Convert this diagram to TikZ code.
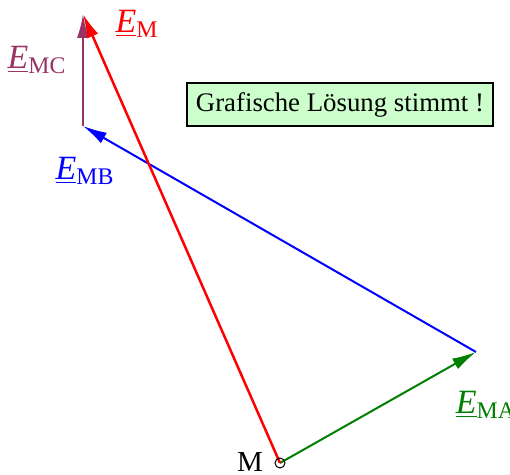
\documentclass[tikz,border=0pt]{standalone}
\usepackage{fontspec}
\setmainfont{Liberation Serif}
\usetikzlibrary{
	arrows.meta,
	positioning
}
\definecolor{gruen}{RGB}{0,128,0}
\definecolor{lila}{RGB}{153,51,102}
\definecolor{hellgruen}{RGB}{204,255,204}
\newcommand{\zeiger}[1]{\underline{\textit{E}}\textsubscript{#1}}

\begin{document}
\begin{tikzpicture}[
  x=0.5pt, y=-0.5pt,
  pfeil/.style={-{Latex[length=12pt,width=6pt]}, line width=1pt},
  marke/.style={font=\fontsize{17}{19}\selectfont},
  hinweis/.style={rectangle, draw, line width=0.8pt, fill=hellgruen,
    minimum width=153pt, minimum height=21.5pt, inner sep=0pt,
    font=\fontsize{13.4}{15}\selectfont}
]
\useasboundingbox (0,0) rectangle (510,475);
\coordinate (M) at (280,463);
\coordinate (A) at (476,352);
\coordinate (B) at (83,126);
\coordinate (C) at (83,14);
% Zeiger
\draw[pfeil, gruen] (M) -- (A);
\draw[pfeil, blue] (A) -- (B);
\draw[pfeil, lila] (B) -- (C);
\draw[pfeil, red, line width=1.25pt] (M) -- (C);
\draw[line width=0.5pt] (M) circle (5);
% Beschriftung
\node[marke, red] (lEM) at (137,24) {\zeiger{M}};
\node[marke, lila] (lEMC) at (37,60) {\zeiger{MC}};
\node[marke, blue] (lEMB) at (85,171) {\zeiger{MB}};
\node[marke, gruen] (lEMA) at (486,405) {\zeiger{MA}};
\node[font=\fontsize{14.5}{16}\selectfont] (lM) at (250,462) {M};
\node[hinweis] (info) at (340,104.5) {Grafische Lösung stimmt !};
\end{tikzpicture}
\end{document}
